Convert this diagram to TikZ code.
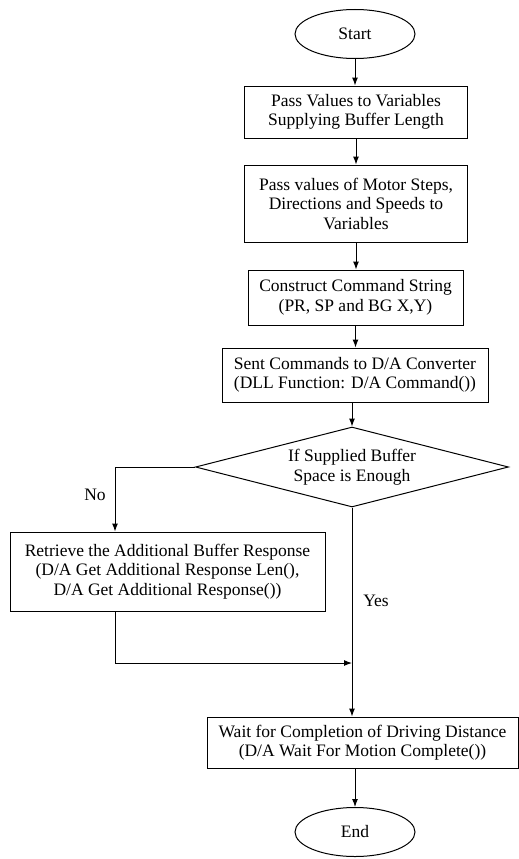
\documentclass[tikz,border=0pt]{standalone}
\usepackage{fontspec}
\setmainfont{Liberation Serif}
\usetikzlibrary{shapes,arrows.meta,calc}
\tikzstyle{line} = [draw, -{Latex[length=8pt,width=6pt]}]
\tikzstyle{block} = [draw, rectangle, text centered, align=center, inner sep=0pt, font=\fontsize{17.5}{19.5}\selectfont]
\tikzstyle{cloud} = [draw, ellipse, text centered, inner sep=0pt, minimum width=120pt, minimum height=49pt, font=\fontsize{17.5}{19.5}\selectfont]
\tikzstyle{decision} = [draw, diamond, text centered, align=center, inner sep=0pt, aspect=3.9, font=\fontsize{17.5}{19.5}\selectfont]
\tikzstyle{label} = [font=\fontsize{17.5}{19.5}\selectfont]

\begin{document}
\begin{tikzpicture}[x=1pt, y=-1pt, line width=1pt]
        \useasboundingbox (0,0) rectangle (519,859);
        \node[cloud] (origin) at (355,34) {Start};
        \node[block, minimum width=223pt, minimum height=52pt] (pass) at (356,112) {Pass Values to Variables\\Supplying Buffer Length};
        \node[block, minimum width=223pt, minimum height=77pt] (motor) at (356,203.5) {Pass values of Motor Steps,\\Directions  and Speeds to\\Variables};
        \node[block, minimum width=215pt, minimum height=55pt] (construct) at (355.5,297.5) {Construct Command String\\(PR, SP  and BG X,Y)};
        \node[block, minimum width=266pt, minimum height=54pt] (sent) at (355,375) {Sent Commands to D/A Converter\\(DLL  Function: D/A Command())};
        \node[decision, minimum width=313pt, minimum height=80pt] (enough) at (352,467) {If Supplied Buffer\\Space is Enough};
        \node[block, minimum width=315pt, minimum height=79pt] (retrieve) at (167.5,571.5) {Retrieve the Additional Buffer Response\\(D/A  Get Additional Response Len(),\\D/A Get Additional Response())};
        \node[block, minimum width=311pt, minimum height=51pt] (wait) at (362.5,742.5) {Wait for Completion of Driving  Distance\\(D/A  Wait For Motion Complete())};
        \node[cloud] (finish) at (355,832) {End};
        \node[label] (no) at (95,495) {No};
        \node[label] (yes) at (376,601) {Yes};
        \coordinate (join) at (352,663);
        \path[line] (origin) -- (origin |- pass.north);
        \path[line] (pass) -- (pass |- motor.north);
        \path[line] (motor) -- (motor |- construct.north);
        \path[line] (construct) -- (construct |- sent.north);
        \path[line] (sent.south -| enough.north) -- (enough.north);
        \path[line] (enough.west) -| ([xshift=-52.5pt]retrieve.north);
        \path[line] (enough.south) -- (enough.south |- wait.north);
        \path[line] ([xshift=-52.5pt]retrieve.south) |- (join);
        \path[line] (wait.south -| finish.north) -- (finish.north);
    \end{tikzpicture}
\end{document}
